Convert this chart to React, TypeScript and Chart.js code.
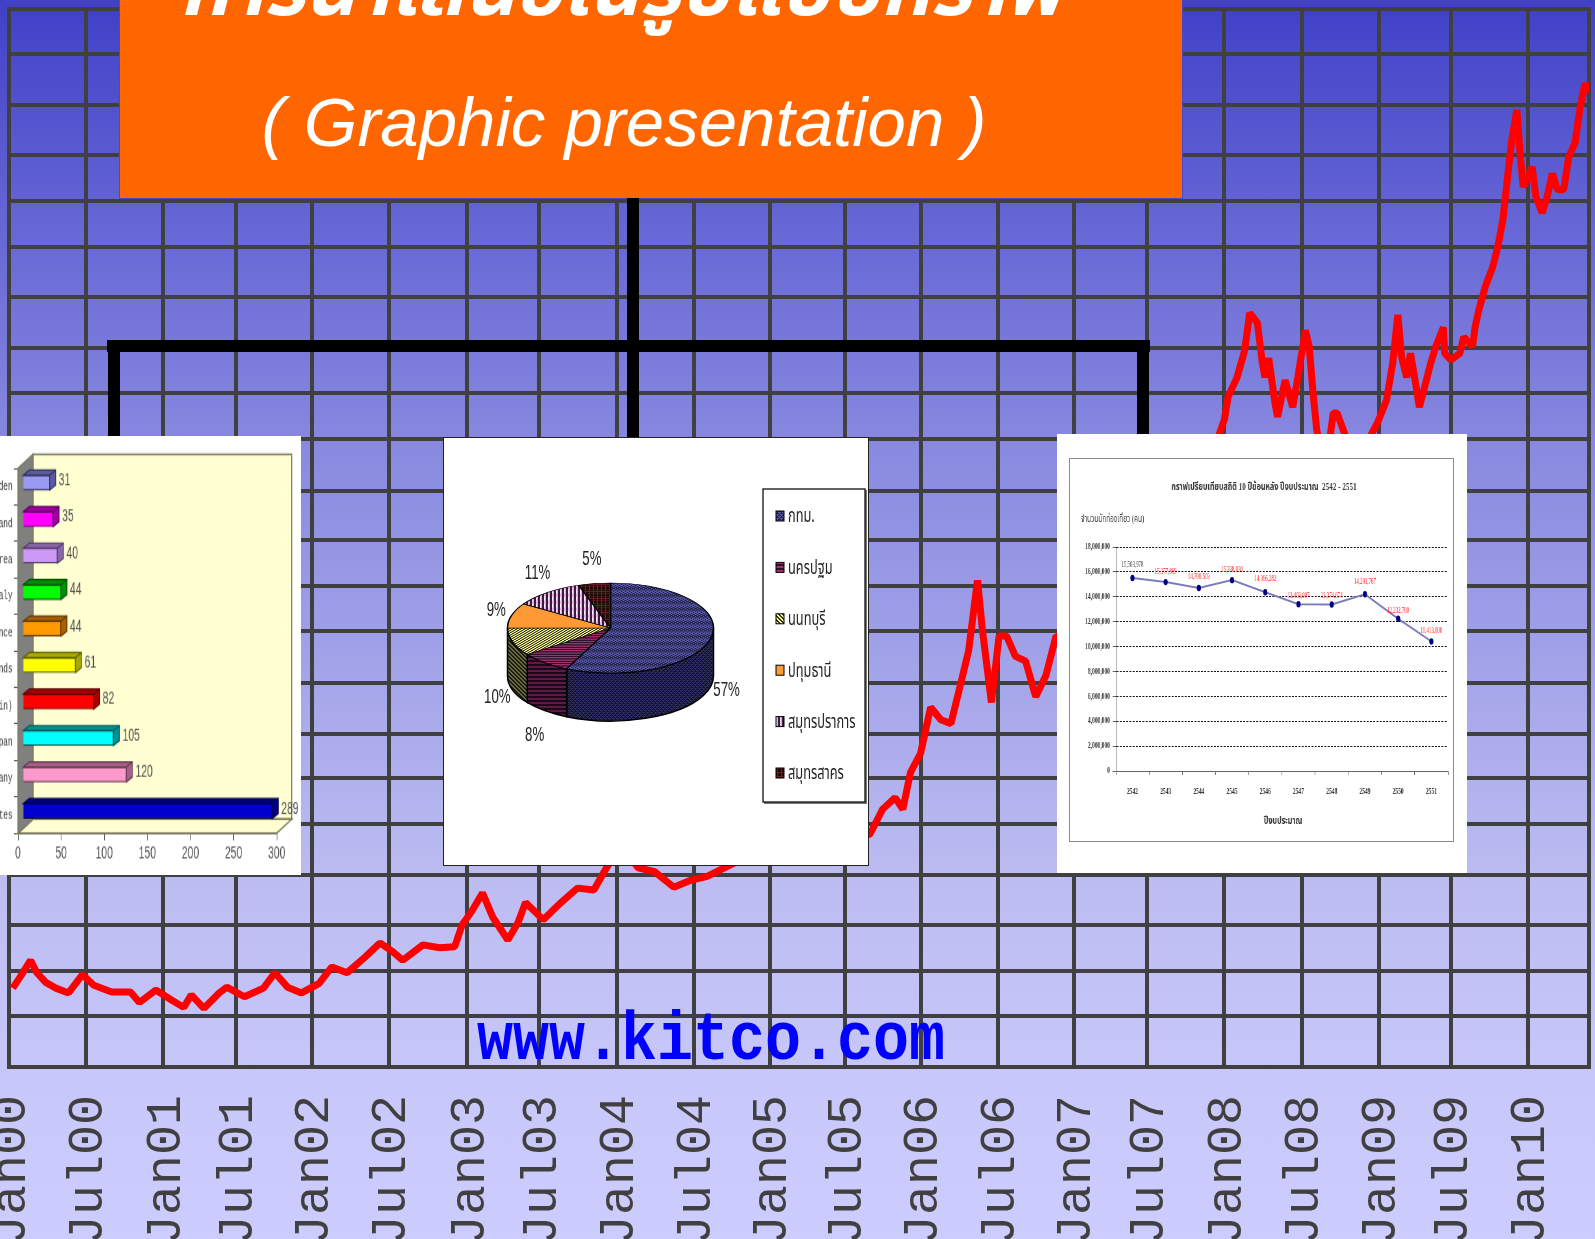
import React, { useEffect, useRef } from "react";
import { Chart, registerables } from "chart.js";

Chart.register(...registerables);

// ---- gold price line ----
const goldMonths = [0.3,0.9,1.7,2.2,2.9,3.7,4.7,5.8,6.7,8.1,9.6,10.3,11.6,12.8,13.8,14.4,15.4,16.6,17.2,18.6,20.1,21.0,22.0,23.1,24.5,25.5,26.7,28.1,29.3,30.3,31.1,32.7,34.0,35.2,35.8,36.6,37.4,38.2,39.4,40.2,40.8,42.2,43.6,44.9,46.2,47.1,48.3,49.7,51.0,52.5,53.8,55.1,56.5,60.1,64.1,68.0,69.0,70.0,70.6,71.2,72.0,72.8,73.6,74.4,75.2,75.8,76.5,76.9,77.6,78.2,78.8,79.5,80.3,81.1,81.9,82.7,84.1,89.9,92.9,96.0,96.3,97.0,97.6,98.0,98.6,99.0,99.2,99.5,100.0,100.2,100.8,101.4,101.8,102.4,102.7,103.0,103.3,104.0,104.6,104.9,105.4,106.5,107.5,108.1,108.8,109.3,109.7,110.0,110.4,110.7,111.1,111.4,111.7,112.3,112.7,113.3,113.4,113.9,114.6,114.9,115.6,115.8,116.1,116.6,117.2,117.6,118.0,118.4,118.7,119.1,119.4,119.6,120.0,120.3,120.6,121.1,121.5,121.9,122.3,122.8,123.2,123.7,124.1,124.5,124.8];
const goldPrices = [282,294,311,298,288,282,277,296,285,278,278,267,280,270,262,275,261,277,283,273,282,298,283,277,287,304,298,314,329,320,311,327,324,325,348,363,381,356,332,350,371,353,371,386,384,405,431,407,403,387,394,398,407,430,426,442,468,480,468,506,526,574,561,557,600,633,706,653,579,648,648,627,622,585,607,648,644,656,758,873,897,917,945,984,974,932,917,937,890,876,914,886,917,966,949,901,862,821,880,880,862,821,855,870,893,932,982,938,917,942,911,886,901,932,949,969,942,935,942,959,949,969,987,1011,1032,1053,1081,1129,1164,1195,1143,1115,1125,1136,1105,1088,1105,1129,1112,1112,1146,1161,1198,1223,1213];
const timeLabels = ["Jan00","Jul00","Jan01","Jul01","Jan02","Jul02","Jan03","Jul03","Jan04","Jul04","Jan05","Jul05","Jan06","Jul06","Jan07","Jul07","Jan08","Jul08","Jan09","Jul09","Jan10"];
const timeTicks = [0,6.1,12.2,17.9,23.9,30.0,36.2,41.9,48.0,54.1,60.1,66,72,78.1,84.1,89.9,96,102.1,108.2,113.9,120];
const priceTicks = [1300,1253,1200,1148,1100,1053,1001,948,901,853,799,748,700,653,599,546,500,453,400,348,300,253,200];

// ---- bar inset ----
const countries = ["Sweden","Switzerland","Korea","Italy","France","Netherlands","U.K. (Britain)","Japan","Germany","United States"];
const countryValues = [31,35,40,44,44,61,82,105,120,289];
const barColors = ["#9a9af0","#ff00ff","#cc99f5","#00ff00","#ff9900","#ffff00","#ff0000","#00ffff","#ff99cc","#0000cc"];
const barShades = ["#5a5aa0","#a000a0","#8866a8","#009000","#a86000","#a8a800","#a80000","#009090","#a86088","#000080"];
const barEdges = ["#33335c","#600060","#4c3a60","#005400","#603700","#606000","#600000","#005454","#60384f","#00004c"];

// ---- pie inset ----
const provinces = ["กทม.","นครปฐม","นนทบุรี","ปทุมธานี","สมุทรปราการ","สมุทรสาคร"];
const provinceShares = [57,8,10,9,11,5];
const pieFronts = [["#5a5aa8","#20204a"],["#a03070","#301028"],["#ffff99","#303020"],["#ff9933","#ff9933"],["#e8a8e8","#401840"],["#702020","#200808"]];
const pieSides = [["#2c2c58","#14142c"],["#5a1c44","#1c0818"],["#6a6a40","#1c1c10"],["#b06820","#b06820"],["#a070a0","#281028"],["#401010","#100404"]];

// ---- line inset ----
const fiscalYears = ["2542","2543","2544","2545","2546","2547","2548","2549","2550","2551"];
const visitors = [15503978,15177869,14700503,15338030,14366282,13403007,13374674,14201767,12232700,10413000];
const chartTitle = "กราฟเปรียบเทียบสถิติ 10 ปีย้อนหลัง ปีงบประมาณ  2542 - 2551";
const yTitle = "จำนวนนักท่องเที่ยว (คน)";
const xTitle = "ปีงบประมาณ";

const GRID = "#404040";
const THAI = "'Noto Sans Thai','DejaVu Sans','Noto Sans',sans-serif";

function makePattern(fg: string, bg: string, kind: number) {
  const c = document.createElement("canvas");
  c.width = 4; c.height = 4;
  const x = c.getContext("2d")!;
  x.fillStyle = bg; x.fillRect(0, 0, 4, 4);
  x.fillStyle = fg;
  if (kind === 0) { x.fillRect(0, 0, 3, 1); x.fillRect(2, 2, 2, 1); x.fillRect(0, 2, 1, 1); x.fillRect(1,1,1,1); x.fillRect(3,3,1,1);}
  if (kind === 1) { x.fillRect(0, 0, 4, 2); }
  if (kind === 2) { x.fillRect(0, 0, 1, 1); x.fillRect(1, 1, 1, 1); x.fillRect(2, 2, 1, 1); x.fillRect(3, 3, 1, 1); x.fillRect(1,0,1,1); x.fillRect(2,1,1,1); x.fillRect(3,2,1,1); x.fillRect(0,3,1,1);}
  if (kind === 3) { x.fillRect(0, 0, 4, 4); }
  if (kind === 4) { x.fillRect(0, 0, 2, 4); x.fillStyle = "#ffffff"; x.fillRect(0,0,1,1); x.fillRect(0,2,1,1);}
  if (kind === 5) { x.fillRect(1, 0, 1, 4); x.fillRect(0,2,4,1); }
  return x.createPattern(c, "repeat")!;
}
let topPatterns: CanvasPattern[] = [];
let sidePatterns: CanvasPattern[] = [];

const mainFrame = {
  id: "mainFrame",
  beforeDatasetsDraw(chart: any) {
    const { ctx, chartArea: a } = chart;
    ctx.save();
    ctx.strokeStyle = GRID;
    ctx.lineWidth = 4;
    ctx.strokeRect(a.left, a.top, a.right - a.left, a.bottom - a.top);
    ctx.restore();
  },
};

const S1X = 0.69, S1Y = 1.2;
const bar3d = {
  id: "bar3d",
  beforeDatasetsDraw(chart: any) {
    const { ctx, chartArea: a } = chart;
    const DX = 15 / S1X, DY = 14 / S1Y;
    ctx.save();
    ctx.lineWidth = 1.5;
    ctx.strokeStyle = "#7c7c60";
    ctx.fillStyle = "#ffffd2";
    ctx.fillRect(a.left + DX, a.top - DY, a.right - a.left, a.bottom - a.top);
    ctx.strokeRect(a.left + DX, a.top - DY, a.right - a.left, a.bottom - a.top);
    ctx.beginPath();
    ctx.moveTo(a.left, a.bottom); ctx.lineTo(a.right, a.bottom); ctx.lineTo(a.right + DX, a.bottom - DY); ctx.lineTo(a.left + DX, a.bottom - DY); ctx.closePath();
    ctx.fill(); ctx.stroke();
    ctx.fillStyle = "#808080";
    ctx.beginPath();
    ctx.moveTo(a.left, a.top); ctx.lineTo(a.left + DX, a.top - DY); ctx.lineTo(a.left + DX, a.bottom - DY); ctx.lineTo(a.left, a.bottom); ctx.closePath();
    ctx.fill(); ctx.stroke();
    ctx.restore();
  },
  beforeDatasetDraw(chart: any) {
    chart.ctx.save();
    chart.ctx.translate(5 / S1X, -4 / S1Y);
  },
  afterDatasetDraw(chart: any, args: any) {
    const { ctx } = chart;
    const dx = 6 / S1X, dy = 5 / S1Y;
    args.meta.data.forEach((el: any, i: number) => {
      const { x, y, base, height } = el.getProps(["x", "y", "base", "height"], true);
      const t = y - height / 2, b = y + height / 2;
      ctx.fillStyle = barShades[i];
      ctx.strokeStyle = barEdges[i];
      ctx.lineWidth = 1.2;
      ctx.beginPath();
      ctx.moveTo(base, t); ctx.lineTo(base + dx, t - dy); ctx.lineTo(x + dx, t - dy); ctx.lineTo(x + dx, b - dy); ctx.lineTo(x, b); ctx.lineTo(x, t); ctx.closePath();
      ctx.fill(); ctx.stroke();
      ctx.beginPath();
      ctx.moveTo(x, t); ctx.lineTo(x + dx, t - dy);
      ctx.stroke();
      ctx.fillStyle = "#505050";
      ctx.font = "15px 'Liberation Sans Narrow','Liberation Sans',sans-serif";
      ctx.textBaseline = "middle";
      ctx.textAlign = "left";
      ctx.fillText(String(countryValues[i]), x + 9 / S1X, y - 2);
    });
    ctx.restore();
  },
};

const PIE_K = 45 / 103;
const PIE_DEPTH = 48;
const pie3d = {
  id: "pie3d",
  beforeDatasetDraw(chart: any, args: any) {
    const { ctx } = chart;
    const el0 = args.meta.data[0];
    const cx = el0.x, cy = el0.y, r = el0.outerRadius;
    ctx.save();
    args.meta.data.forEach((el: any, i: number) => {
      const a0 = Math.max(el.startAngle, 0), a1 = Math.min(el.endAngle, Math.PI);
      if (a1 <= a0) return;
      ctx.beginPath();
      ctx.ellipse(cx, cy, r, r * PIE_K, 0, a0, a1);
      ctx.ellipse(cx, cy + PIE_DEPTH, r, r * PIE_K, 0, a1, a0, true);
      ctx.closePath();
      ctx.fillStyle = sidePatterns[i];
      ctx.fill();
      ctx.strokeStyle = "#000";
      ctx.lineWidth = 1.5;
      ctx.stroke();
    });
    ctx.translate(cx, cy);
    ctx.scale(1, PIE_K);
    ctx.translate(-cx, -cy);
  },
  afterDatasetDraw(chart: any, args: any) {
    const { ctx } = chart;
    ctx.restore();
    const el0 = args.meta.data[0];
    const cx = el0.x, cy = el0.y;
    ctx.save();
    ctx.fillStyle = "#222";
    ctx.textAlign = "center";
    ctx.textBaseline = "middle";
    args.meta.data.forEach((el: any, i: number) => {
      const mid = (el.startAngle + el.endAngle) / 2;
      const s = Math.cos(mid), c = -Math.sin(mid);
      const x = cx + 119 * s;
      const y = (c > 0 ? cy - 72 * c : cy - 81 * c + 42) + 3;
      ctx.save();
      ctx.translate(x, y);
      ctx.scale(0.78, 1.15);
      ctx.font = "17px 'Liberation Sans Narrow','Liberation Sans',sans-serif";
      ctx.fillText(provinceShares[i] + "%", 0, 0);
      ctx.restore();
    });
    // legend
    const L = 763 - 444, T = 489 - 438, LW = 102, LH = 313;
    ctx.fillStyle = "#777";
    ctx.fillRect(L + 1, T + 1, LW + 1, LH + 1);
    ctx.fillStyle = "#fff";
    ctx.strokeStyle = "#111";
    ctx.lineWidth = 1.3;
    ctx.fillRect(L, T, LW, LH);
    ctx.strokeRect(L, T, LW, LH);
    ctx.textAlign = "left";
    provinces.forEach((name, i) => {
      const y = T + 26 + i * 51.4;
      ctx.fillStyle = topPatterns[i];
      ctx.fillRect(L + 13, y - 4, 8, 10);
      ctx.strokeStyle = "#000";
      ctx.lineWidth = 1;
      ctx.strokeRect(L + 13, y - 4, 8, 10);
      ctx.save();
      ctx.translate(L + 25, y + 3.5);
      ctx.scale(0.8, 1.22);
      ctx.fillStyle = "#222";
      ctx.font = "16px " + THAI;
      ctx.fillText(name, 0, 0);
      ctx.restore();
    });
    ctx.restore();
  },
};

const S3X = 0.65;
const labelLifts = [13, 10, 11, 10, 13, 8, 9, 12, 8, 10];
const lineText = {
  id: "lineText",
  afterDatasetsDraw(chart: any) {
    const { ctx } = chart;
    ctx.save();
    ctx.textAlign = "center";
    ctx.textBaseline = "middle";
    ctx.fillStyle = "#333";
    ctx.font = "bold 11px 'Liberation Serif'," + THAI;
    ctx.fillText(chartTitle, (1264 - 1069) / S3X, 487 - 458);
    ctx.font = "10px 'Liberation Serif'," + THAI;
    ctx.textAlign = "left";
    ctx.fillText(yTitle, (1081 - 1069) / S3X, 519 - 458);
    ctx.textAlign = "center";
    ctx.font = "bold 11px 'Liberation Serif'," + THAI;
    ctx.fillText(xTitle, (1283 - 1069) / S3X, 821 - 458);
    ctx.font = "7.5px 'Liberation Serif'";
    chart.getDatasetMeta(0).data.forEach((p: any, i: number) => {
      ctx.fillStyle = i === 0 ? "#444" : "#ff2020";
      ctx.fillText(visitors[i].toLocaleString("en-US"), p.x, p.y - labelLifts[i]);
    });
    ctx.restore();
  },
};

function useChart(ref: React.RefObject<HTMLCanvasElement | null>, build: (c: HTMLCanvasElement) => Chart) {
  useEffect(() => {
    const chart = build(ref.current!);
    return () => chart.destroy();
  }, []);
}

function buildMain(c: HTMLCanvasElement) {
  return new Chart(c, {
    type: "line",
    data: {
      datasets: [{
        data: goldMonths.map((m, i) => ({ x: m, y: goldPrices[i] })),
        borderColor: "#ff0000",
        borderWidth: 7,
        pointRadius: 0,
        tension: 0,
        borderJoinStyle: "bevel",
      } as any],
    },
    plugins: [mainFrame],
    options: {
      animation: false,
      responsive: false,
      devicePixelRatio: 1,
      layout: { padding: { left: 9, right: 6, top: 9, bottom: 0 } },
      plugins: { legend: { display: false }, tooltip: { enabled: false } },
      scales: {
        x: {
          type: "linear", min: 0, max: 124.8,
          afterBuildTicks: (s: any) => { s.ticks = timeTicks.map((value) => ({ value })); },
          afterFit: (s: any) => { s.height = 172; s.paddingLeft = 0; s.paddingRight = 0; },
          grid: { color: GRID, lineWidth: 4, drawTicks: false, tickLength: 0 },
          border: { display: false },
          ticks: {
            autoSkip: false, minRotation: 90, maxRotation: 90, padding: 28, labelOffset: 3, color: GRID,
            font: { family: "'Liberation Mono'", size: 50 },
            callback: (_v: any, i: number) => timeLabels[i],
          },
        },
        y: {
          min: 200, max: 1300,
          afterBuildTicks: (s: any) => { s.ticks = priceTicks.map((value) => ({ value })); },
          afterFit: (s: any) => { s.width = 0; s.paddingTop = 0; s.paddingBottom = 0; },
          grid: { color: GRID, lineWidth: 4, drawTicks: false, tickLength: 0 },
          border: { display: false },
          ticks: { display: false },
        },
      },
    } as any,
  });
}

function buildBars(c: HTMLCanvasElement) {
  return new Chart(c, {
    type: "bar",
    data: {
      labels: countries,
      datasets: [{ data: countryValues, backgroundColor: barColors, borderColor: barEdges, borderWidth: 1.2, barThickness: 12.5 } as any],
    },
    plugins: [bar3d],
    options: {
      indexAxis: "y",
      animation: false,
      responsive: false,
      devicePixelRatio: 1,
      layout: { padding: { left: 0, right: 37, top: 27, bottom: 0 } },
      plugins: { legend: { display: false }, tooltip: { enabled: false } },
      scales: {
        x: {
          min: 0, max: 300,
          afterFit: (s: any) => { s.height = 35; s.paddingLeft = 0; s.paddingRight = 0; },
          grid: { drawOnChartArea: false, color: "#505050", tickLength: 6 },
          border: { color: "#505050" },
          ticks: { stepSize: 50, padding: 2, color: "#505050", maxRotation: 0, font: { family: "'Liberation Sans Narrow','Liberation Sans'", size: 15 } },
        },
        y: {
          afterFit: (s: any) => { s.width = 26; s.paddingTop = 0; s.paddingBottom = 0; },
          grid: { drawOnChartArea: false, color: "#505050", tickLength: 6 },
          border: { color: "#505050" },
          ticks: { autoSkip: false, padding: 2, color: "#444", font: { family: "'Liberation Mono'", size: 11 } },
        },
      },
    } as any,
  });
}

function buildPie(c: HTMLCanvasElement) {
  topPatterns = pieFronts.map(([f, b], i) => makePattern(f, b, i));
  sidePatterns = pieSides.map(([f, b], i) => makePattern(f, b, i));
  return new Chart(c, {
    type: "pie",
    data: {
      labels: provinces,
      datasets: [{ data: provinceShares, backgroundColor: topPatterns, borderColor: "#000", borderWidth: 1.5, radius: 103, clip: false } as any],
    },
    plugins: [pie3d],
    options: {
      animation: false,
      responsive: false,
      devicePixelRatio: 1,
      layout: { padding: { left: 0, right: 91, top: 0, bottom: 46 } },
      plugins: { legend: { display: false }, tooltip: { enabled: false } },
    } as any,
  });
}

function buildLine(c: HTMLCanvasElement) {
  return new Chart(c, {
    type: "line",
    data: {
      labels: fiscalYears,
      datasets: [{
        data: visitors,
        borderColor: "#7c7cbc",
        borderWidth: 2,
        pointBackgroundColor: "#000080",
        pointBorderColor: "#000080",
        pointRadius: 2.2,
        tension: 0,
      }],
    },
    plugins: [lineText],
    options: {
      animation: false,
      responsive: false,
      devicePixelRatio: 1,
      layout: { padding: { left: 0, right: 9, top: 89, bottom: 0 } },
      plugins: { legend: { display: false }, tooltip: { enabled: false } },
      scales: {
        x: {
          offset: true,
          afterFit: (s: any) => { s.height = 71; s.paddingLeft = 0; s.paddingRight = 0; },
          grid: { drawOnChartArea: false, offset: true, color: "#666", tickLength: 4 },
          border: { color: "#666" },
          ticks: { padding: 12, color: "#333", maxRotation: 0, font: { family: "'Liberation Serif'", size: 8.5, weight: "bold" } },
        },
        y: {
          min: 0, max: 18000000,
          afterFit: (s: any) => { s.width = 72; s.paddingTop = 0; s.paddingBottom = 0; },
          grid: { color: "#111", lineWidth: 1, tickLength: 5, tickColor: "#666" },
          border: { color: "#666", dash: [3, 2] },
          ticks: {
            stepSize: 2000000, padding: 4, color: "#333",
            font: { family: "'Liberation Serif'", size: 8.5, weight: "bold" },
            callback: (v: any) => Number(v).toLocaleString("en-US"),
          },
        },
      },
    } as any,
  });
}

const abs = (left: number, top: number, width: number, height: number, extra: React.CSSProperties = {}): React.CSSProperties => ({
  position: "absolute", left, top, width, height, ...extra,
});

export default function App() {
  const mainRef = useRef<HTMLCanvasElement>(null);
  const barRef = useRef<HTMLCanvasElement>(null);
  const pieRef = useRef<HTMLCanvasElement>(null);
  const lineRef = useRef<HTMLCanvasElement>(null);
  useChart(mainRef, buildMain);
  useChart(barRef, buildBars);
  useChart(pieRef, buildPie);
  useChart(lineRef, buildLine);

  return (
    <div style={{
      position: "fixed", left: 0, top: 0, width: 1595, height: 1239, overflow: "hidden",
      background: "linear-gradient(180deg,#4040c8 0px,#6262d4 200px,#8888e0 440px,#bcbcf2 875px,#c8c8fa 1100px,#ccccff 1239px)",
    }}>
      <canvas ref={mainRef} width={1595} height={1239} style={abs(0, 0, 1595, 1239, { display: "block" })} />

      <div style={{ position: "absolute", left: 477, top: 1011, fontFamily: "'Liberation Mono'", fontWeight: 700, fontSize: 60, lineHeight: "70px", color: "#0000ff", whiteSpace: "pre", transform: "scale(1,1.15)", transformOrigin: "0 100%" }}>www.kitco.com</div>

      <div style={abs(119, -2, 1064, 201, { background: "#ff6600", boxSizing: "border-box", border: "1.5px solid #4848cc", overflow: "hidden" })}>
        <div style={{ position: "absolute", left: 0, right: 60, top: -46, textAlign: "center", color: "#fff", fontFamily: THAI, fontStyle: "italic", fontWeight: 700, fontSize: 79, lineHeight: "76px", whiteSpace: "pre" }}>การนำเสนอในรูปแบบกราฟ</div>
        <div style={{ position: "absolute", left: 0, right: 54, top: 84, textAlign: "center", color: "#fff", fontFamily: "'Liberation Sans'", fontStyle: "italic", fontSize: 69, lineHeight: "80px", whiteSpace: "pre" }}>( Graphic presentation )</div>
      </div>

      <div style={abs(627, 198, 12, 240, { background: "#000" })} />
      <div style={abs(107, 340, 1043, 12, { background: "#000" })} />
      <div style={abs(108, 340, 12, 98, { background: "#000" })} />
      <div style={abs(1137, 340, 12, 98, { background: "#000" })} />

      <div style={abs(0, 436, 301, 439, { background: "#fff", overflow: "hidden" })}>
        <canvas ref={barRef} width={438} height={366} style={{ position: "absolute", left: 0, top: 0, transformOrigin: "0 0", transform: `scale(${S1X},${S1Y})`, filter: "blur(0.5px)" }} />
      </div>

      <div style={abs(443, 437, 426, 429, { background: "#fff", boxSizing: "border-box", border: "1.5px solid #222" })}>
        <canvas ref={pieRef} width={424} height={426} style={{ display: "block" }} />
      </div>

      <div style={abs(1057, 434, 410, 439, { background: "#fff" })}>
        <div style={abs(12, 24, 385, 384, { boxSizing: "border-box", border: "1.5px solid #8a8a8a" })} />
        <canvas ref={lineRef} width={592} height={384} style={{ position: "absolute", left: 12, top: 24, transformOrigin: "0 0", transform: `scale(${S3X},1)`, filter: "blur(0.6px)" }} />
      </div>
    </div>
  );
}
